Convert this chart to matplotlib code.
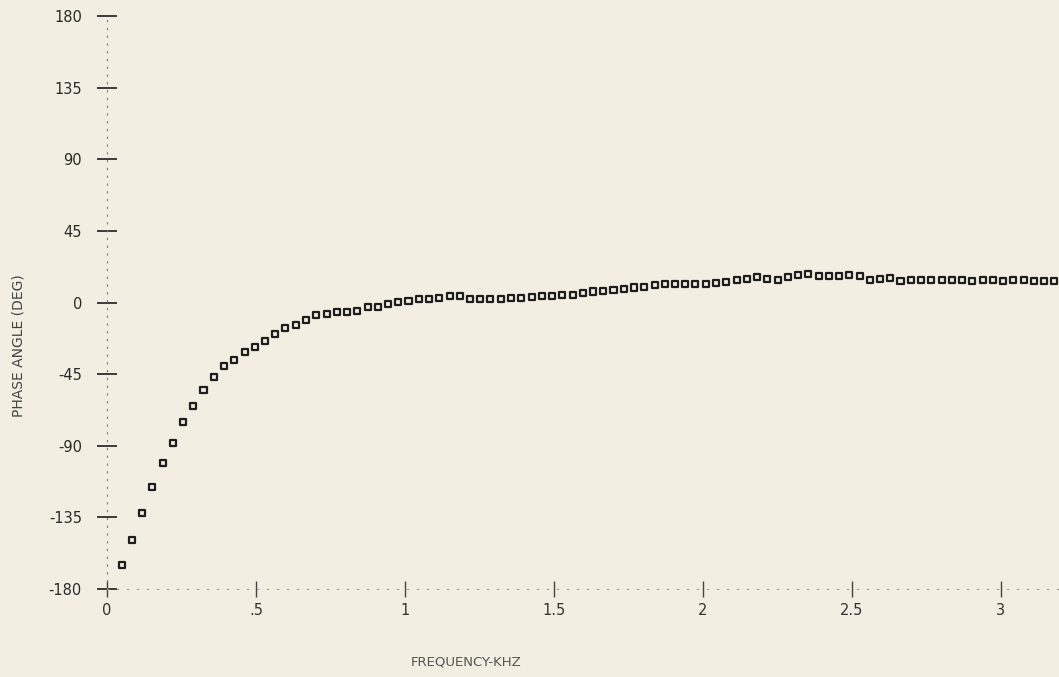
import matplotlib
matplotlib.use('Agg')
import matplotlib.pyplot as plt

freq_khz = [0.049, 0.083, 0.118, 0.152, 0.187, 0.221, 0.255, 0.290, 0.324, 0.359,
            0.393, 0.427, 0.462, 0.496, 0.531, 0.565, 0.599, 0.634, 0.668, 0.703,
            0.737, 0.771, 0.806, 0.840, 0.875, 0.909, 0.943, 0.978, 1.012, 1.047,
            1.081, 1.115, 1.150, 1.184, 1.219, 1.253, 1.287, 1.322, 1.356, 1.391,
            1.425, 1.459, 1.494, 1.528, 1.563, 1.597, 1.631, 1.666, 1.700, 1.735,
            1.769, 1.803, 1.838, 1.872, 1.907, 1.941, 1.975, 2.010, 2.044, 2.079,
            2.113, 2.147, 2.182, 2.216, 2.251, 2.285, 2.319, 2.354, 2.388, 2.423,
            2.457, 2.491, 2.526, 2.560, 2.595, 2.629, 2.663, 2.698, 2.732, 2.767,
            2.801, 2.835, 2.870, 2.904, 2.939, 2.973, 3.007, 3.042, 3.076, 3.111,
            3.145, 3.179]
phase_deg = [-165, -149, -132, -116, -101, -88, -75, -65, -55, -47,
             -40, -36, -31, -28, -24, -20, -16, -14, -11, -8,
             -7, -6, -6, -5, -3, -2.5, -1, 0.5, 1, 2,
             2.5, 3, 4, 4, 2, 2, 2.5, 2.5, 3, 3,
             3.5, 4, 4, 4.5, 5, 6, 7, 7.5, 8, 8.5,
             9.5, 10, 11, 12, 12, 12, 12, 12, 12.5, 13,
             14, 15, 16, 15, 14, 16, 17.5, 18, 17, 17,
             17, 17.5, 16.5, 14, 15, 15.5, 13.5, 14, 14, 14,
             14.5, 14, 14, 13.5, 14, 14, 13.5, 14, 14, 13.5,
             13.5, 13.5]

xticks = [0, 0.5, 1, 1.5, 2, 2.5, 3]
xtick_labels = ['0', '.5', '1', '1.5', '2', '2.5', '3']
yticks = [180, 135, 90, 45, 0, -45, -90, -135, -180]
ytick_labels = ['180', '135', '90', '45', '0', '-45', '-90', '-135', '-180']

paper = '#f2eee2'
ink = '#1e1e1e'

fig = plt.figure(figsize=(10.59, 6.77), dpi=100, facecolor=paper)
ax = fig.add_axes([0.101, 0.13, 0.899, 0.846])
ax.set_facecolor(paper)

ax.scatter(freq_khz, phase_deg, marker='s', s=19, facecolors='none',
           edgecolors=ink, linewidths=1.6, zorder=3, clip_on=False)

ax.set_xlim(0, 3.195)
ax.set_ylim(-180, 180)

for side in ['top', 'right']:
    ax.spines[side].set_visible(False)
ax.spines['left'].set_linestyle((0, (1, 6)))
ax.spines['left'].set_color('#777777')
ax.spines['left'].set_linewidth(0.8)
ax.spines['bottom'].set_linestyle((0, (1, 8)))
ax.spines['bottom'].set_color('#999999')
ax.spines['bottom'].set_linewidth(0.8)

ax.set_xticks(xticks)
ax.set_xticklabels(xtick_labels, fontsize=10.5, color='#333333')
ax.set_yticks(yticks)
ax.set_yticklabels(ytick_labels, fontsize=10.5, color='#2a2a2a')
ax.tick_params(axis='y', direction='inout', length=14, width=1.2, color=ink, pad=11)
ax.tick_params(axis='x', direction='inout', length=12, width=1.0, color='#444444', pad=4)

fig.text(0.017, 0.49, 'PHASE ANGLE (DEG)', rotation=90, ha='center', va='center',
         fontsize=10, color='#444444')
fig.text(0.44, 0.022, 'FREQUENCY-KHZ', ha='center', va='center',
         fontsize=9.5, color='#555555')

plt.savefig('out.png', dpi=100, facecolor=paper)
